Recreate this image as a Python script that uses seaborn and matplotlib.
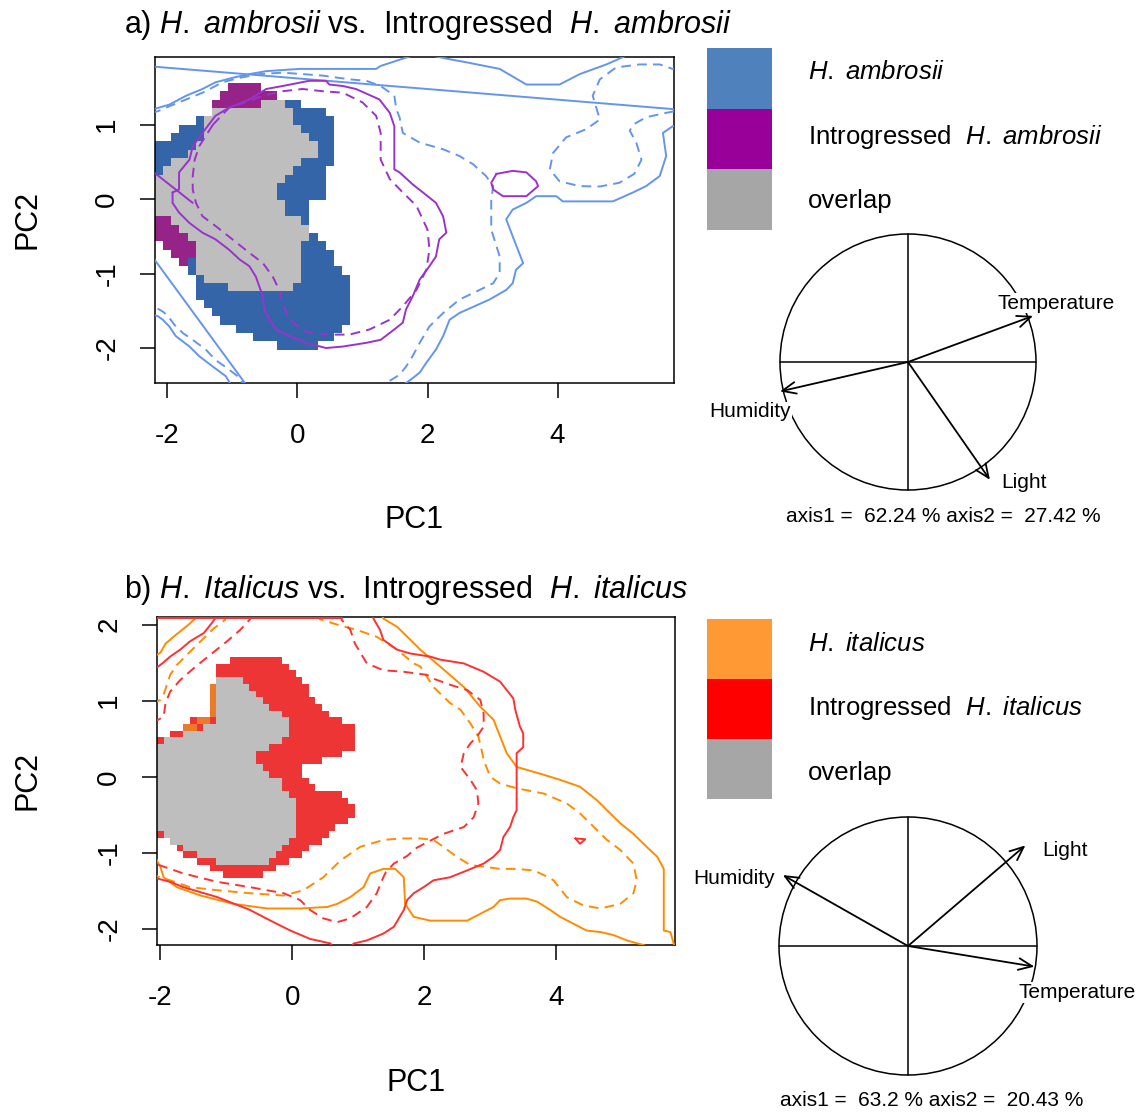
import numpy as np
import pandas as pd
import matplotlib
matplotlib.use("Agg")
import matplotlib.pyplot as plt
import seaborn as sns
from matplotlib.path import Path
from matplotlib.colors import ListedColormap
from matplotlib.patches import Rectangle, Circle

# ======================= DATA : panel a =======================
a_xlim = (-2.19, 5.79)
a_ylim = (-2.47, 1.91)
a_xticks = [-2, 0, 2, 4]
a_yticks = [-2, -1, 0, 1]

# occupied cells (outer envelope of the native niche)
a_species_region = [(-2.30,0.62),(-2.10,0.74),(-1.97,0.85),(-1.84,0.94),(-1.71,1.00),(-1.56,1.10),(-1.38,1.16),
    (-1.28,1.34),(-0.89,1.57),(-0.66,1.57),(-0.33,1.43),(-0.25,1.30),(0.29,1.27),(0.39,1.21),(0.54,1.03),
    (0.54,0.40),(0.39,0.40),(0.39,0.04),(0.21,-0.05),(0.14,-0.23),(0.21,-0.43),(0.29,-0.52),(0.39,-0.52),
    (0.54,-0.77),(0.67,-0.95),(0.80,-1.06),(0.85,-1.13),(0.85,-1.37),(0.80,-1.57),(0.67,-1.75),(0.54,-1.93),
    (0.21,-2.00),(-0.07,-2.02),(-0.33,-1.98),(-0.51,-1.91),(-0.74,-1.84),(-0.94,-1.75),(-1.15,-1.64),
    (-1.38,-1.48),(-1.61,-1.28),(-1.61,-1.04),(-1.71,-0.97),(-1.71,-0.90),(-2.30,-0.47)]
a_intro_top = [(-1.28,1.16),(-1.28,1.34),(-1.17,1.45),(-0.89,1.57),(-0.66,1.57),(-0.51,1.50),(-0.33,1.43),
    (-0.25,1.30),(-0.74,1.23),(-1.26,1.16)]
a_intro_left = [(-2.30,-0.16),(-2.10,-0.18),(-1.97,-0.30),(-1.84,-0.41),(-1.71,-0.52),(-1.60,-0.63),(-1.60,-0.79),
    (-1.71,-0.89),(-1.84,-0.88),(-1.97,-0.75),(-2.10,-0.56),(-2.30,-0.47)]
a_overlap_region = [(-1.38,1.16),(-1.26,1.23),(-1.05,1.25),(-0.74,1.27),(-0.23,1.30),(-0.10,1.16),(-0.10,1.07),
    (0.13,0.94),(0.14,0.83),(0.29,0.74),(0.29,0.62),(0.21,0.58),(0.06,0.47),(-0.07,0.40),(-0.17,0.31),
    (-0.33,0.20),(-0.33,0.04),(-0.17,-0.03),(-0.17,-0.18),(-0.07,-0.27),(0.21,-0.32),(0.21,-0.43),(0.13,-0.54),
    (0.08,-0.86),(-0.02,-1.13),(-0.12,-1.19),(-0.51,-1.26),(-0.74,-1.26),(-0.94,-1.22),(-1.20,-1.13),
    (-1.38,-1.08),(-1.61,-0.99),(-1.61,-0.63),(-1.71,-0.52),(-1.84,-0.41),(-1.97,-0.30),(-2.10,-0.18),
    (-2.30,-0.16),(-2.30,0.27),(-2.10,0.36),(-1.94,0.47),(-1.76,0.56),(-1.61,0.67),(-1.46,0.80),(-1.38,0.98)]

# contour lines (species = blue, introgressed = purple)
a_sp_solid = [
    [(-2.30,1.787),(5.90,1.201)],
    [(-2.30,-0.69),(-0.80,-2.48)],
    [(-2.25,1.20),(-2.17,1.22),(-1.97,1.27),(-1.71,1.39),(-1.46,1.48),(-1.26,1.57),(-1.00,1.63),(-0.74,1.68),
     (-0.48,1.72),(0.03,1.75),(1.21,1.75),(1.28,1.79),(1.77,1.93),(1.80,1.96)],
    [(2.02,1.96),(2.06,1.93),(2.34,1.88),(2.59,1.84),(3.11,1.75),(3.52,1.54),(4.03,1.54),(4.34,1.68),(4.75,1.81),
     (5.06,1.93),(5.10,1.96)],
    [(5.85,0.98),(5.77,0.98),(5.62,0.89),(5.67,0.58),(5.57,0.31),(5.36,0.175),(5.16,0.09),(4.85,-0.03),
     (4.08,-0.03),(3.98,0.04),(3.67,0.04),(3.52,-0.05),(3.31,-0.14),(3.21,-0.27),(3.31,-0.50),(3.47,-0.86),
     (3.36,-0.95),(3.31,-1.13),(3.21,-1.22),(2.95,-1.35),(2.49,-1.53),(2.34,-1.62),(2.24,-1.84),(2.13,-2.02),
     (1.98,-2.20),(1.88,-2.33),(1.75,-2.42),(1.62,-2.50)],
    [(-2.25,-1.55),(-2.15,-1.57),(-2.07,-1.62),(-1.97,-1.71),(-1.87,-1.84),(-1.66,-1.98),(-1.51,-2.11),
     (-1.30,-2.25),(-1.10,-2.38),(-1.02,-2.50)],
]
a_sp_dashed = [
    [(-2.25,1.16),(-2.15,1.18),(-2.02,1.23),(-1.71,1.34),(-1.46,1.43),(-1.15,1.57),(-0.89,1.63),(-0.58,1.68),
     (-0.23,1.70),(0.08,1.68),(0.39,1.66),(0.80,1.61),(1.06,1.59),(1.28,1.52),(1.49,1.39),(1.52,1.21),
     (1.57,1.10),(1.62,0.89),(1.88,0.76),(2.24,0.67),(2.49,0.58),(2.70,0.47),(2.90,0.31),(3.01,0.175),
     (2.98,0.0),(2.98,-0.41),(3.06,-0.63),(3.11,-0.77),(3.11,-0.99),(3.01,-1.13),(2.80,-1.22),(2.49,-1.35),
     (2.24,-1.53),(2.03,-1.71),(1.88,-1.93),(1.77,-2.11),(1.67,-2.25),(1.57,-2.36),(1.40,-2.45),(1.30,-2.50)],
    [(5.85,1.76),(5.77,1.75),(5.57,1.81),(5.26,1.81),(4.90,1.77),(4.65,1.61),(4.54,1.39),(4.65,1.07),
     (4.44,0.94),(4.13,0.83),(3.93,0.62),(3.88,0.40),(4.03,0.24),(4.34,0.175),(4.65,0.17),(4.95,0.22),
     (5.18,0.34),(5.29,0.53),(5.21,0.76),(5.11,0.92),(5.16,1.00),(5.36,1.10),(5.67,1.16),(5.85,1.19)],
    [(-2.15,-1.47),(-2.07,-1.51),(-1.99,-1.57),(-1.89,-1.69),(-1.76,-1.80),(-1.61,-1.89),(-1.41,-2.02),
     (-1.26,-2.16),(-1.05,-2.29),(-0.89,-2.40),(-0.82,-2.50)],
]
a_in_solid = [
    [(-1.92,0.09),(-1.82,0.13),(-1.82,0.36),(-1.66,0.53),(-1.61,0.71),(-1.46,0.89),(-1.26,1.12),(-1.05,1.23),
     (-0.74,1.34),(-0.48,1.48),(-0.23,1.52),(0.18,1.59),(0.44,1.59),(0.49,1.54),(0.70,1.52),(0.90,1.48),
     (1.26,1.34),(1.42,1.16),(1.49,0.98),(1.49,0.40),(1.57,0.36),(1.77,0.20),(1.93,0.09),(2.13,-0.05),
     (2.24,-0.23),(2.29,-0.45),(2.18,-0.54),(2.13,-0.77),(2.03,-0.90),(1.88,-1.08),(1.77,-1.31),(1.67,-1.48),
     (1.62,-1.66),(1.49,-1.75),(1.28,-1.89),(1.06,-1.93),(0.70,-1.98),(0.44,-2.00),(0.13,-1.93),(-0.12,-1.84),
     (-0.33,-1.75),(-0.43,-1.62),(-0.51,-1.48),(-0.53,-1.31),(-0.64,-1.04),(-0.74,-0.90),(-0.89,-0.81),
     (-1.05,-0.68),(-1.26,-0.54),(-1.46,-0.45),(-1.66,-0.32),(-1.82,-0.18),(-1.92,-0.05),(-1.92,0.09)],
    [(-2.25,0.39),(-1.61,-0.05)],
    [(3.06,0.34),(3.31,0.38),(3.52,0.36),(3.67,0.24),(3.70,0.175),(3.52,0.04),(3.16,0.04),(3.01,0.13),
     (2.98,0.22),(3.06,0.34)],
]
a_in_dashed = [
    [(-1.30,1.00),(-1.38,0.89),(-1.51,0.71),(-1.58,0.53),(-1.61,0.31),(-1.61,0.13),(-1.56,-0.05),(-1.46,-0.23),
     (-1.26,-0.36),(-1.00,-0.54),(-0.74,-0.72),(-0.53,-0.86),(-0.38,-1.04),(-0.28,-1.22),(-0.23,-1.39),
     (-0.17,-1.53),(-0.07,-1.66),(0.13,-1.78),(0.44,-1.82),(0.80,-1.82),(1.11,-1.75),(1.42,-1.62),(1.62,-1.44),
     (1.83,-1.22),(1.98,-0.95),(2.03,-0.68),(2.00,-0.41),(1.83,-0.09),(1.62,0.09),(1.42,0.27),(1.28,0.53),
     (1.28,0.89),(1.21,1.12),(1.00,1.30),(0.70,1.43),(0.39,1.45),(0.08,1.48),(-0.23,1.45),(-0.53,1.39),
     (-0.74,1.32),(-1.05,1.23),(-1.30,1.00)],
]

# ======================= DATA : panel b =======================
b_xlim = (-2.05, 5.80)
b_ylim = (-2.21, 2.10)
b_xticks = [-2, 0, 2, 4]
b_yticks = [-2, -1, 0, 1, 2]

b_intro_region = [(-2.15,0.46),(-1.87,0.55),(-1.67,0.64),(-1.49,0.75),(-1.29,0.81),(-1.28,1.21),(-1.19,1.23),
    (-1.19,1.36),(-1.09,1.49),(-0.94,1.54),(-0.86,1.60),(-0.33,1.60),(-0.13,1.51),(0.02,1.43),(0.15,1.29),
    (0.22,1.16),(0.32,1.03),(0.47,0.92),(0.63,0.79),(0.78,0.70),(0.93,0.64),(0.93,0.37),(0.63,0.24),(0.10,0.13),
    (0.30,-0.11),(0.53,-0.20),(0.88,-0.26),(0.93,-0.48),(0.78,-0.61),(0.63,-0.72),(0.47,-0.83),(0.30,-0.88),
    (0.10,-1.05),(-0.03,-1.12),(-0.23,-1.18),(-0.38,-1.27),(-0.69,-1.32),(-0.89,-1.32),(-1.14,-1.25),
    (-1.34,-1.18),(-1.49,-1.10),(-1.67,-1.03),(-1.85,-0.88),(-1.97,-0.79),(-2.15,-0.75)]
b_species_region = [(-1.28,1.21),(-1.18,1.21),(-1.18,0.75),(-1.32,0.68),(-1.42,0.66),(-1.60,0.57),(-1.69,0.54),
    (-1.69,0.62),(-1.60,0.68),(-1.44,0.76),(-1.28,0.81)]
b_overlap_region = [(-2.15,0.35),(-1.85,0.50),(-1.67,0.55),(-1.42,0.61),(-1.29,0.68),(-1.18,0.75),(-1.17,1.27),
    (-0.94,1.34),(-0.79,1.32),(-0.64,1.23),(-0.54,1.03),(-0.38,0.92),(-0.26,0.90),(-0.16,0.88),(-0.08,0.75),
    (-0.08,0.55),(-0.18,0.46),(-0.38,0.39),(-0.51,0.35),(-0.54,0.20),(-0.43,0.07),(-0.28,0.0),(-0.13,-0.09),
    (-0.08,-0.20),(0.10,-0.39),(0.10,-0.64),(0.00,-0.79),(-0.08,-0.88),(-0.23,-1.05),(-0.38,-1.12),
    (-1.14,-1.12),(-1.34,-1.05),(-1.65,-0.94),(-1.85,-0.83),(-2.00,-0.75),(-2.15,-0.66)]

b_in_solid = [
    [(-2.15,2.09),(0.76,2.09)],
    [(-1.15,2.15),(-1.17,2.08),(-1.22,2.02),(-1.34,1.89),(-1.55,1.78),(-1.70,1.67),(-1.85,1.58),(-1.97,1.49),
     (-2.03,1.45),(-2.15,1.40)],
    [(1.21,2.15),(1.23,2.08),(1.33,1.93),(1.38,1.80),(1.59,1.67),(1.79,1.62),(2.09,1.58),(2.24,1.54),(2.60,1.49),
     (2.90,1.38),(3.15,1.25),(3.35,1.03),(3.38,0.88),(3.45,0.66),(3.50,0.57),(3.50,0.39),(3.40,0.31),
     (3.40,-0.44),(3.35,-0.53),(3.30,-0.66),(3.20,-0.79),(3.15,-0.96),(3.05,-1.05),(2.90,-1.14),(2.65,-1.23),
     (2.39,-1.32),(2.14,-1.36),(1.99,-1.45),(1.84,-1.53),(1.74,-1.62),(1.69,-1.75),(1.54,-1.97),(1.38,-2.06),
     (1.13,-2.15),(0.93,-2.19),(0.88,-2.25)],
    [(0.62,-2.25),(0.58,-2.19),(0.27,-2.13),(-0.03,-2.02),(-0.33,-1.89),(-0.64,-1.75),(-1.14,-1.58),
     (-1.65,-1.45),(-1.85,-1.38),(-2.03,-1.34),(-2.15,-1.31)],
    [(4.29,-0.81),(4.44,-0.82),(4.36,-0.88),(4.29,-0.81)],
]
b_in_dashed = [
    [(-0.62,2.15),(-0.64,2.07),(-0.79,1.93),(-0.99,1.78),(-1.19,1.64),(-1.49,1.43),(-1.70,1.27),(-1.85,1.12),
     (-1.92,0.97),(-1.95,0.79),(-2.03,0.75),(-2.15,0.72)],
    [(0.73,2.15),(0.75,2.06),(0.88,1.93),(0.95,1.75),(1.13,1.49),(1.38,1.40),(1.69,1.38),(2.04,1.34),
     (2.14,1.29),(2.39,1.21),(2.65,1.14),(2.85,1.01),(2.90,0.83),(2.90,0.66),(2.80,0.53),(2.70,0.44),
     (2.60,0.31),(2.55,0.13),(2.70,-0.04),(2.80,-0.18),(2.82,-0.35),(2.75,-0.53),(2.60,-0.66),(2.29,-0.75),
     (2.09,-0.84),(1.89,-0.93),(1.74,-1.04),(1.54,-1.14),(1.42,-1.25),(1.38,-1.32),(1.28,-1.53),(1.13,-1.71),
     (0.88,-1.86),(0.68,-1.91),(0.47,-1.86),(0.27,-1.75),(0.12,-1.62),(-0.13,-1.53),(-0.64,-1.45),
     (-1.14,-1.38),(-1.65,-1.27),(-1.95,-1.18),(-2.15,-1.12)],
]
b_sp_solid = [
    [(-1.43,2.15),(-1.47,2.08),(-1.57,2.00),(-1.80,1.84),(-1.92,1.75),(-2.00,1.63),(-2.15,1.55)],
    [(1.35,2.15),(1.38,2.08),(1.59,1.97),(1.79,1.80),(1.94,1.67),(2.24,1.45),(2.60,1.18),(2.85,0.92),
     (3.05,0.75),(3.15,0.53),(3.25,0.31),(3.40,0.13),(3.76,0.04),(4.06,-0.04),(4.36,-0.13),(4.62,-0.31),
     (4.77,-0.44),(4.97,-0.61),(5.17,-0.75),(5.37,-0.92),(5.53,-1.05),(5.63,-1.21),(5.63,-2.02),(5.73,-2.04),
     (5.78,-2.19),(5.82,-2.25)],
    [(5.45,-2.25),(5.32,-2.21),(5.07,-2.15),(4.87,-2.08),(4.67,-2.04),(4.46,-2.02),(4.26,-1.93),(4.06,-1.84),
     (3.91,-1.75),(3.71,-1.64),(3.55,-1.60),(3.30,-1.60),(3.15,-1.62),(3.05,-1.71),(2.85,-1.80),(2.65,-1.89),
     (2.09,-1.89),(1.84,-1.84),(1.71,-1.67),(1.69,-1.32),(1.56,-1.21),(1.38,-1.21),(1.18,-1.27),(1.08,-1.45),
     (0.88,-1.58),(0.68,-1.67),(0.53,-1.71),(0.12,-1.73),(-0.38,-1.73),(-0.89,-1.67),(-1.39,-1.56),
     (-1.75,-1.45),(-1.95,-1.32),(-2.00,-1.18),(-2.08,-1.05),(-2.15,-1.00)],
]
b_sp_dashed = [
    [(-1.00,2.15),(-1.02,2.06),(-1.19,1.95),(-1.39,1.78),(-1.60,1.60),(-1.75,1.47),(-1.85,1.34),(-1.90,1.21),
     (-1.95,1.08),(-2.00,1.01),(-2.15,0.95)],
    [(0.40,2.15),(0.42,2.07),(0.68,2.00),(0.98,1.93),(1.28,1.84),(1.59,1.67),(1.84,1.49),(1.94,1.45),
     (2.14,1.18),(2.39,0.97),(2.55,0.88),(2.70,0.70),(2.82,0.53),(2.87,0.35),(2.90,0.22),(3.00,0.0),
     (3.15,-0.09),(3.40,-0.15),(3.81,-0.22),(4.16,-0.35),(4.36,-0.48),(4.57,-0.66),(4.77,-0.83),(4.97,-0.96),
     (5.17,-1.14),(5.22,-1.36),(5.17,-1.53),(4.97,-1.67),(4.67,-1.73),(4.41,-1.69),(4.16,-1.58),(3.96,-1.36),
     (3.81,-1.29),(3.66,-1.23),(3.40,-1.21),(3.15,-1.21),(2.90,-1.18),(2.70,-1.16),(2.49,-1.05),(2.29,-0.92),
     (2.14,-0.83),(1.94,-0.81),(1.64,-0.81),(1.38,-0.83),(1.03,-0.92),(0.73,-1.10),(0.47,-1.32),(0.17,-1.49),
     (-0.13,-1.56),(-0.64,-1.53),(-1.14,-1.49),(-1.55,-1.45),(-1.85,-1.36),(-2.00,-1.32),(-2.15,-1.28)],
]

# ======================= DATA : correlation circles =======================
variables = ["Temperature", "Humidity", "Light"]
a_loadings_x = [0.977, -1.00, 0.64]
a_loadings_y = [0.36, -0.23, -0.92]
a_label_pos = [(1.16, 0.46), (-1.23, -0.39), (0.91, -0.94)]
a_axis_pct = [62.24, 27.42]
b_loadings_x = [0.98, -0.97, 0.91]
b_loadings_y = [-0.16, 0.55, 0.78]
b_label_pos = [(1.31, -0.36), (-1.35, 0.52), (1.22, 0.74)]
b_axis_pct = [63.2, 20.43]

# ======================= STYLE =======================
sns.set_theme(style="white")
plt.rcParams["font.family"] = ["Liberation Sans", "DejaVu Sans"]
plt.rcParams["mathtext.fontset"] = "custom"
plt.rcParams["mathtext.rm"] = "Liberation Sans"
plt.rcParams["mathtext.it"] = "Liberation Sans:italic"
for key in ["text.color", "axes.labelcolor", "xtick.color", "ytick.color", "axes.edgecolor"]:
    plt.rcParams[key] = "black"

W, H = 1142, 1115
fig = plt.figure(figsize=(W / 100, H / 100), dpi=100)
fig.patch.set_facecolor("white")

def fx(px):
    return px / W

def fy(py):
    return 1 - py / H

def rasterize(layers, xlim, ylim, dx, dy):
    xe = np.arange(xlim[0] - dx, xlim[1] + 2 * dx, dx)
    ye = np.arange(ylim[0] - dy, ylim[1] + 2 * dy, dy)
    xc = (xe[:-1] + xe[1:]) / 2
    yc = (ye[:-1] + ye[1:]) / 2
    XX, YY = np.meshgrid(xc, yc)
    pts = np.column_stack([XX.ravel(), YY.ravel()])
    cat = np.zeros(XX.shape)
    for value, polys in layers:
        for poly in polys:
            m = Path(poly).contains_points(pts).reshape(XX.shape)
            cat[m] = value
    return xe, ye, np.ma.masked_equal(cat, 0)

def draw_lines(ax, lines, color, dashed):
    for pts in lines:
        df = pd.DataFrame(pts, columns=["x", "y"])
        sns.lineplot(data=df, x="x", y="y", sort=False, estimator=None, ax=ax,
                     color=color, lw=1.4, legend=False, zorder=3)
        if dashed:
            ax.lines[-1].set_dashes((5, 3.2))

def setup_axes(ax, xlim, ylim, xticks, yticks, xlab_y, ylab_x):
    ax.set_xlim(*xlim)
    ax.set_ylim(*ylim)
    ax.set_xticks(xticks)
    ax.set_yticks(yticks)
    ax.set_xticklabels([str(t) for t in xticks])
    ax.set_yticklabels([str(t) for t in yticks])
    ax.tick_params(axis="both", direction="out", length=11, width=1.1, colors="black",
                   labelsize=20, bottom=True, left=True)
    ax.tick_params(axis="x", pad=18)
    ax.tick_params(axis="y", pad=14, labelrotation=90)
    for t in ax.get_yticklabels():
        t.set_va("center")
    for s in ax.spines.values():
        s.set_visible(True)
        s.set_color("black")
        s.set_linewidth(1.1)
    ax.set_xlabel("PC1", fontsize=22, color="black")
    ax.set_ylabel("PC2", fontsize=22, color="black")
    ax.xaxis.set_label_coords(0.5, xlab_y)
    ax.yaxis.set_label_coords(ylab_x, 0.5)
    ax.xaxis.label.set_va("center")
    ax.yaxis.label.set_va("center")
    ax.set_facecolor("white")
    ax.grid(False)

def legend_block(top, row_h, text_y, colors, labels):
    for i, (c, lab) in enumerate(zip(colors, labels)):
        y0 = top + i * row_h
        fig.add_artist(Rectangle((fx(707), fy(y0 + row_h)), fx(772) - fx(707), row_h / H,
                                 transform=fig.transFigure, facecolor=c, edgecolor="none"))
        fig.text(fx(808), fy(text_y[i]), lab, ha="left", va="center", fontsize=18.5, color="black")

def corcircle(cx, cy, r, lx, ly, lpos, pct):
    L, V = 1.75, 1.4
    ax = fig.add_axes([fx(cx - L * r), fy(cy + V * r), 2 * L * r / W, 2 * V * r / H])
    ax.set_xlim(-L, L)
    ax.set_ylim(-V, V)
    ax.axis("off")
    ax.add_patch(Circle((0, 0), 1, fill=False, edgecolor="black", lw=1.1, zorder=1))
    ax.plot([-1, 1], [0, 0], color="black", lw=1.1, zorder=1)
    ax.plot([0, 0], [-1, 1], color="black", lw=1.1, zorder=1)
    for name, x, y, (tx, ty) in zip(variables, lx, ly, lpos):
        ax.text(tx, ty, name, ha="center", va="center", fontsize=15, zorder=2, color="black",
                bbox=dict(facecolor="white", edgecolor="none", pad=0.5))
        ax.annotate("", xy=(x, y), xytext=(0, 0), zorder=3,
                    arrowprops=dict(arrowstyle="->,head_length=0.7,head_width=0.3", lw=1.3,
                                    color="black", shrinkA=0, shrinkB=0, mutation_scale=14))
    return ax

# ---------------- panel a ----------------
ax_a = fig.add_axes([fx(155), fy(383), (674 - 155) / W, (383 - 57) / H])
xe, ye, cat = rasterize([(1, [a_species_region]), (2, [a_intro_top, a_intro_left]),
                         (3, [a_overlap_region])], a_xlim, a_ylim, 0.125, 0.112)
ax_a.pcolormesh(xe, ye, cat, cmap=ListedColormap(["#3465A9", "#962388", "#BEBEBE"]),
                vmin=0.5, vmax=3.5, shading="flat", zorder=1)
draw_lines(ax_a, a_sp_solid, "#6495ED", False)
draw_lines(ax_a, a_sp_dashed, "#6495ED", True)
draw_lines(ax_a, a_in_solid, "#9A32CD", False)
draw_lines(ax_a, a_in_dashed, "#9A32CD", True)
setup_axes(ax_a, a_xlim, a_ylim, a_xticks, a_yticks, -0.42, -0.245)
fig.text(fx(428), fy(25), r"a) $\mathit{H.\ ambrosii}$ vs.  Introgressed  $\mathit{H.\ ambrosii}$",
         ha="center", va="center", fontsize=22, color="black")
legend_block(48, 60.7, [72, 137, 201], ["#4F81BD", "#990099", "#A6A6A6"],
             [r"$\mathit{H.\ ambrosii}$", r"Introgressed  $\mathit{H.\ ambrosii}$", "overlap"])
corcircle(908, 362, 128, a_loadings_x, a_loadings_y, a_label_pos, a_axis_pct)
fig.text(fx(943), fy(517), f"axis1 =  {a_axis_pct[0]} % axis2 =  {a_axis_pct[1]} %",
         ha="center", va="center", fontsize=15, color="black")

# ---------------- panel b ----------------
ax_b = fig.add_axes([fx(157), fy(945), (675 - 157) / W, (945 - 617) / H])
xe, ye, cat = rasterize([(1, [b_intro_region]), (2, [b_species_region]),
                         (3, [b_overlap_region])], b_xlim, b_ylim, 0.1, 0.088)
ax_b.pcolormesh(xe, ye, cat, cmap=ListedColormap(["#EE3535", "#EC7A2A", "#BEBEBE"]),
                vmin=0.5, vmax=3.5, shading="flat", zorder=1)
draw_lines(ax_b, b_sp_solid, "#FF8C00", False)
draw_lines(ax_b, b_sp_dashed, "#FF8C00", True)
draw_lines(ax_b, b_in_solid, "#FF3030", False)
draw_lines(ax_b, b_in_dashed, "#FF3030", True)
setup_axes(ax_b, b_xlim, b_ylim, b_xticks, b_yticks, -0.42, -0.25)
fig.text(fx(406), fy(590), r"b) $\mathit{H.\ Italicus}$ vs.  Introgressed  $\mathit{H.\ italicus}$",
         ha="center", va="center", fontsize=22, color="black")
legend_block(619, 60, [644, 708, 773], ["#FF9933", "#FF0000", "#A6A6A6"],
             [r"$\mathit{H.\ italicus}$", r"Introgressed  $\mathit{H.\ italicus}$", "overlap"])
corcircle(908, 946, 129, b_loadings_x, b_loadings_y, b_label_pos, b_axis_pct)
fig.text(fx(932), fy(1101), f"axis1 =  {b_axis_pct[0]} % axis2 =  {b_axis_pct[1]} %",
         ha="center", va="center", fontsize=15, color="black")

fig.savefig("out.png", dpi=100, facecolor="white")
